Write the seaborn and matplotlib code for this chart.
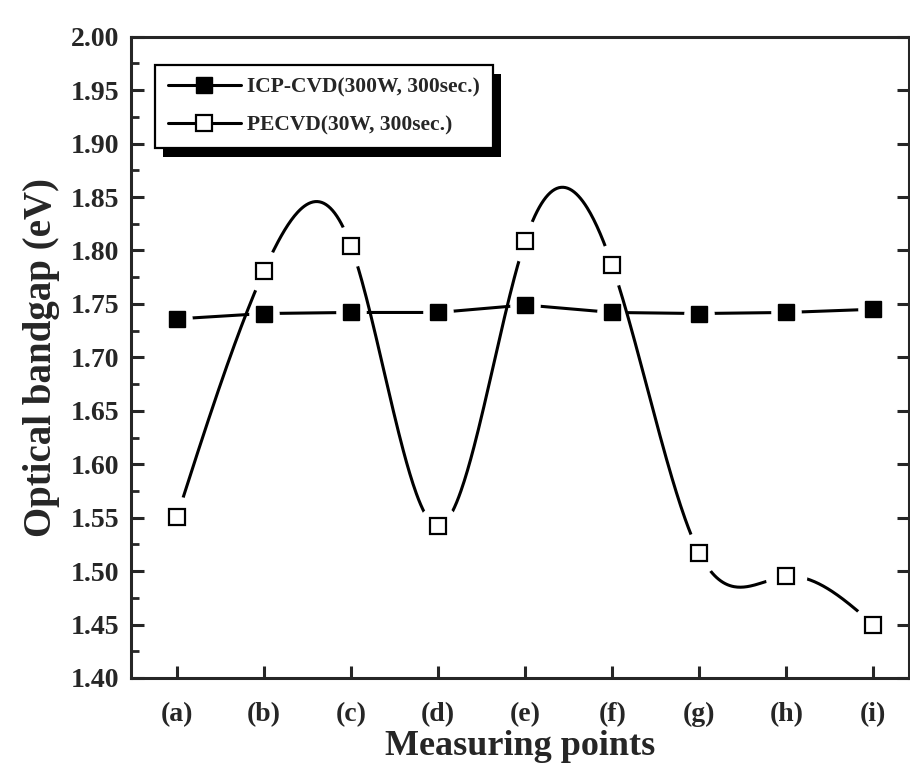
import numpy as np
import pandas as pd
import matplotlib
matplotlib.use('Agg')
import matplotlib.pyplot as plt
import seaborn as sns
from matplotlib.lines import Line2D
from matplotlib.patches import Rectangle
from matplotlib.transforms import IdentityTransform
from matplotlib.ticker import MultipleLocator

# data
points = ['(a)', '(b)', '(c)', '(d)', '(e)', '(f)', '(g)', '(h)', '(i)']
icp_cvd = [1.736, 1.741, 1.742, 1.742, 1.749, 1.742, 1.741, 1.742, 1.745]
pecvd = [1.551, 1.781, 1.804, 1.542, 1.809, 1.786, 1.517, 1.495, 1.450]

label_icp = 'ICP-CVD(300W, 300sec.)'
label_pe = 'PECVD(30W, 300sec.)'

sns.set_style('ticks')
plt.rcParams['font.family'] = ['Liberation Serif', 'DejaVu Serif']
plt.rcParams['font.weight'] = 'bold'
plt.rcParams['axes.labelweight'] = 'bold'


# natural cubic spline, like the origin "spline" connector
def natural_spline(x, y, n=80):
    x = np.asarray(x, float)
    y = np.asarray(y, float)
    h = np.diff(x)
    m = len(x)
    A = np.zeros((m, m))
    r = np.zeros(m)
    A[0, 0] = 1
    A[-1, -1] = 1
    for i in range(1, m - 1):
        A[i, i - 1] = h[i - 1]
        A[i, i] = 2 * (h[i - 1] + h[i])
        A[i, i + 1] = h[i]
        r[i] = 6 * ((y[i + 1] - y[i]) / h[i] - (y[i] - y[i - 1]) / h[i - 1])
    M = np.linalg.solve(A, r)
    xs, ys = [], []
    for i in range(m - 1):
        t = np.linspace(x[i], x[i + 1], n, endpoint=False)
        s = (M[i] * (x[i + 1] - t) ** 3 / (6 * h[i]) + M[i + 1] * (t - x[i]) ** 3 / (6 * h[i])
             + (y[i] / h[i] - M[i] * h[i] / 6) * (x[i + 1] - t)
             + (y[i + 1] / h[i] - M[i + 1] * h[i] / 6) * (t - x[i]))
        xs.append(t)
        ys.append(s)
    xs.append([x[-1]])
    ys.append([y[-1]])
    return np.concatenate(xs), np.concatenate(ys)


pos = np.arange(len(points))
df = pd.DataFrame({'pos': pos, 'icp': icp_cvd, 'pe': pecvd})
sx, sy = natural_spline(pos, pecvd)
curve = pd.DataFrame({'x': sx, 'y': sy})

fig = plt.figure(figsize=(9.1, 7.76), dpi=100)
ax = fig.add_axes([0.1436, 0.1263, 0.8553, 0.8264])

# ICP-CVD: straight segments, gaps around the markers
sns.lineplot(data=df, x='pos', y='icp', color='black', lw=2.2, ax=ax, zorder=2,
             estimator=None, sort=False)
ax.plot(df['pos'], df['icp'], ls='none', marker='o', ms=22, mfc='white', mec='none', zorder=2.1)
ax.plot(df['pos'], df['icp'], ls='none', marker='s', ms=12, mfc='black', mec='black', zorder=2.2)

# PECVD: spline curve, gaps around the markers
sns.lineplot(data=curve, x='x', y='y', color='black', lw=2.2, ax=ax, zorder=3,
             estimator=None, sort=False)
ax.plot(df['pos'], df['pe'], ls='none', marker='o', ms=30, mfc='white', mec='none', zorder=3.1)
ax.plot(df['pos'], df['pe'], ls='none', marker='s', ms=12, mfc='white', mec='black',
        mew=1.6, zorder=3.2)

ax.set_xlim(-0.532, 8.41)
ax.set_ylim(1.40, 2.00)
ax.set_xticks(pos)
ax.set_xticklabels(points)
ax.yaxis.set_major_locator(MultipleLocator(0.05))
ax.yaxis.set_minor_locator(MultipleLocator(0.025))
ax.yaxis.set_major_formatter(matplotlib.ticker.FormatStrFormatter('%.2f'))

for s in ax.spines.values():
    s.set_linewidth(2.2)
    s.set_visible(True)
ax.tick_params(axis='both', which='major', direction='in', length=9, width=2.2,
               labelsize=20, top=False, right=True)
ax.tick_params(axis='y', which='minor', direction='in', length=6, width=2, left=True, right=False)
ax.tick_params(axis='y', which='major', pad=8)
ax.tick_params(axis='x', which='major', pad=17)

ax.set_xlabel('Measuring points', fontsize=26, fontweight='bold', labelpad=2)
ax.set_ylabel('Optical bandgap (eV)', fontsize=28, fontweight='bold', labelpad=8)

handles = [
    Line2D([], [], color='black', lw=2.2, marker='s', ms=11, mfc='black', mec='black'),
    Line2D([], [], color='black', lw=2.2, marker='s', ms=11, mfc='white', mec='black', mew=1.6),
]
leg = ax.legend(handles, [label_icp, label_pe], loc='upper left', bbox_to_anchor=(0.031, 0.956),
                borderaxespad=0, frameon=True, fancybox=False, framealpha=1, edgecolor='black',
                prop={'size': 15.5, 'weight': 'bold'}, handlelength=3.4, handletextpad=0.3,
                labelspacing=0.8, borderpad=0.6)
leg.get_frame().set_linewidth(1.6)
leg.set_zorder(5)

# heavy offset shadow under the legend box
fig.canvas.draw()
bb = leg.get_window_extent()
shadow = Rectangle((bb.x0 + 8, bb.y0 - 9), bb.width, bb.height, transform=IdentityTransform(),
                   facecolor='black', edgecolor='none', zorder=4.9)
ax.add_artist(shadow)

fig.savefig('out.png', dpi=100)
